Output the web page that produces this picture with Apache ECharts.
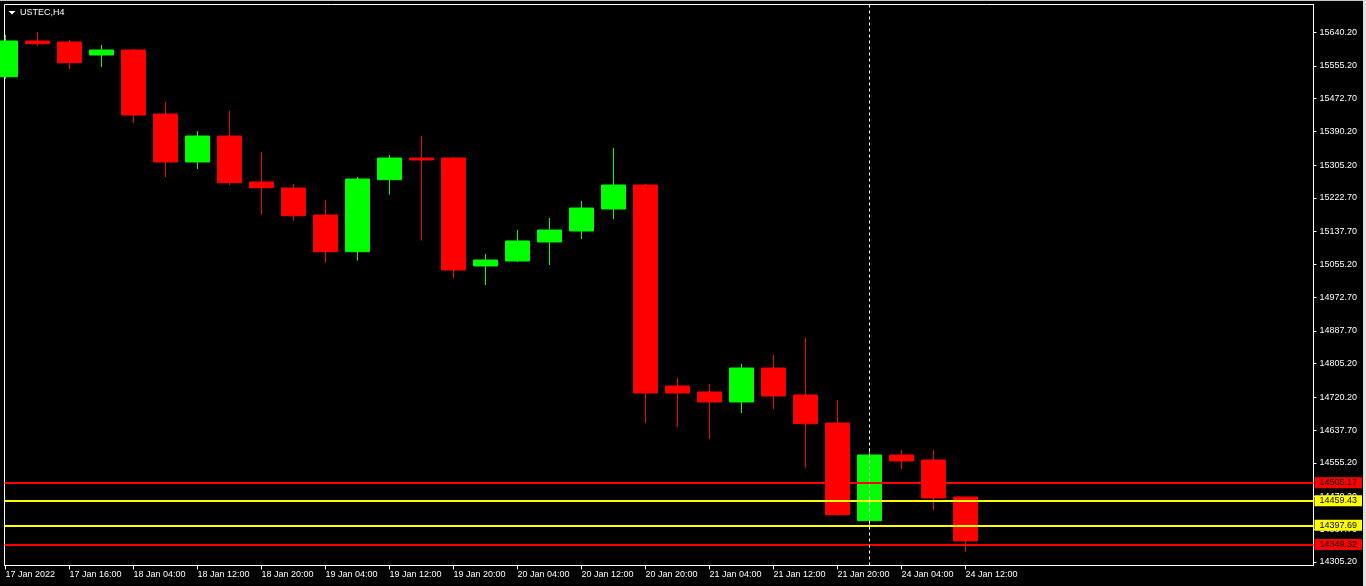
<!DOCTYPE html>
<html>
<head>
<meta charset="utf-8">
<script src="https://cdn.jsdelivr.net/npm/echarts@6/dist/echarts.min.js"></script>
<style>
html,body{margin:0;padding:0;background:#000;}
#c{width:1366px;height:586px;}
</style>
</head>
<body>
<div id="c"></div>
<script>
// ---------- data ----------
const symbolName = 'USTEC,H4';
const times = [
  '17 Jan 2022', '17 Jan 12:00', '17 Jan 16:00', '18 Jan 00:00', '18 Jan 04:00', '18 Jan 08:00',
  '18 Jan 12:00', '18 Jan 16:00', '18 Jan 20:00', '19 Jan 00:00', '19 Jan 04:00', '19 Jan 08:00',
  '19 Jan 12:00', '19 Jan 16:00', '19 Jan 20:00', '20 Jan 00:00', '20 Jan 04:00', '20 Jan 08:00',
  '20 Jan 12:00', '20 Jan 16:00', '20 Jan 20:00', '21 Jan 00:00', '21 Jan 04:00', '21 Jan 08:00',
  '21 Jan 12:00', '21 Jan 16:00', '21 Jan 20:00', '24 Jan 00:00', '24 Jan 04:00', '24 Jan 08:00',
  '24 Jan 12:00'
];
const open = [
  15528.2, 15618.2, 15615.7, 15582.9, 15595.5, 15434.2, 15313.3, 15378.8, 15262.9, 15247.7,
  15179.7, 15087.2, 15268.7, 15323.3, 15323.3, 15051.2, 15063.8, 15111.7, 15139.4, 15194.8,
  15255.3, 14748.8, 14733.7, 14708.5, 14794.1, 14726.1, 14655.5, 14409.3, 14574.9, 14562.3,
  14469.1
];
const high = [
  15633.3, 15640.9, 15620.7, 15608.1, 15598.0, 15464.5, 15391.4, 15441.8, 15338.5, 15257.8,
  15217.5, 15275.5, 15330.9, 15378.8, 15325.9, 15081.4, 15141.9, 15172.1, 15215.0, 15348.5,
  15257.8, 14768.9, 14753.8, 14804.2, 14826.9, 14869.7, 14713.5, 14592.5, 14587.5, 14587.5,
  14469.1
];
const low = [
  15522.4, 15605.6, 15547.6, 15552.7, 15411.5, 15275.5, 15295.6, 15255.3, 15180.5, 15165.3,
  15059.5, 15064.5, 15230.9, 15114.9, 15020.9, 15003.3, 15061.3, 15053.7, 15119.2, 15169.6,
  14655.5, 14645.5, 14615.2, 14680.7, 14690.8, 14542.9, 14421.9, 14390.9, 14539.6, 14436.3,
  14330.5
];
const close = [
  15618.2, 15611.4, 15563.5, 15595.5, 15431.7, 15313.3, 15378.8, 15261.1, 15248.5, 15177.9,
  15087.2, 15270.4, 15323.3, 15318.3, 15041.1, 15066.3, 15114.2, 15141.9, 15197.3, 15255.3,
  14731.1, 14731.1, 14708.5, 14794.1, 14723.6, 14653.8, 14424.5, 14574.9, 14559.8, 14466.5,
  14358.2
];
const priceTicks = [
  15640.20, 15555.20, 15472.70, 15390.20, 15305.20, 15222.70, 15137.70, 15055.20, 14972.70,
  14887.70, 14805.20, 14720.20, 14637.70, 14555.20, 14470.20, 14387.70, 14305.20
];
const levels = [14505.17, 14459.43, 14397.69, 14349.32];
const separatorIndex = 27; // bar 24 Jan 00:00
const timeLabelStep = 2;

// ---------- styles ----------
const levelColors = ['#ff0000', '#ffff00', '#ffff00', '#ff0000'];
const FONT = "'Liberation Sans',Arial,sans-serif";
const FS = 9;
const UP = '#00ff00', DOWN = '#ff0000';

const candleData = open.map((o, i) => [i, o, close[i], low[i], high[i]]);
const timeTickIdx = times.map((t, i) => i).filter(i => i % timeLabelStep === 0);

const markData = levels.map((v, i) => ({
  yAxis: v,
  lineStyle: { color: levelColors[i], width: 2, type: 'solid' },
  label: {
    show: true, position: 'end', distance: 1,
    formatter: v.toFixed(2),
    backgroundColor: levelColors[i], color: '#000',
    fontFamily: FONT, fontSize: FS, lineHeight: 11, padding: [0, 5, 0, 5]
  }
}));
markData.push({
  xAxis: separatorIndex,
  lineStyle: { color: '#ffffff', width: 1, type: [3, 3] },
  label: { show: false }
});

const chart = echarts.init(document.getElementById('c'), null, { renderer: 'canvas' });
chart.setOption({
  animation: false,
  backgroundColor: '#000000',
  grid: {
    left: 4.5, top: 4.5, right: 52.5, bottom: 20.5,
    containLabel: false, outerBoundsMode: 'none',
    show: true, borderColor: '#ffffff', borderWidth: 1, backgroundColor: '#000000'
  },
  xAxis: {
    type: 'value', min: -1 / 32, max: 40.875,
    axisLine: { show: true, onZero: false, lineStyle: { color: '#ffffff', width: 1 } },
    axisTick: { show: true, customValues: timeTickIdx, length: 4, lineStyle: { color: '#ffffff' } },
    axisLabel: {
      customValues: timeTickIdx,
      formatter: v => times[Math.round(v)] || '',
      color: '#ffffff', fontFamily: FONT, fontSize: FS, align: 'left', margin: 5
    },
    splitLine: { show: false }
  },
  yAxis: {
    type: 'value', position: 'right', min: 14296.4, max: 15710.2, scale: true,
    axisLine: { show: true, onZero: false, lineStyle: { color: '#ffffff', width: 1 } },
    axisTick: { show: true, customValues: priceTicks, length: 3, lineStyle: { color: '#ffffff' } },
    axisLabel: {
      customValues: priceTicks,
      formatter: v => Number(v).toFixed(2),
      color: '#ffffff', fontFamily: FONT, fontSize: FS, margin: 6
    },
    splitLine: { show: false }
  },
  series: [{
    type: 'candlestick',
    data: candleData,
    encode: { x: 0, y: [1, 2, 3, 4] },
    barWidth: 24,
    clip: true,
    itemStyle: {
      color: UP, color0: DOWN, borderColor: UP, borderColor0: DOWN, borderWidth: 1
    },
    markLine: {
      silent: true, symbol: 'none', animation: false,
      data: markData
    }
  }],
  graphic: [
    { type: 'rect', shape: { x: 0, y: 0, width: 1366, height: 1 }, style: { fill: '#c8c8c8' }, z: 100 },
    { type: 'rect', shape: { x: 1363, y: 0, width: 3, height: 586 }, style: { fill: '#e0e0e0' }, z: 100 },
    { type: 'polygon', shape: { points: [[8.5, 11], [15.5, 11], [12, 14.5]] }, style: { fill: '#ffffff' }, z: 100 },
    { type: 'text', x: 20, y: 13, style: { text: symbolName, fill: '#ffffff', font: FS + 'px ' + FONT, textVerticalAlign: 'middle', verticalAlign: 'middle' }, z: 100 }
  ]
});
</script>
</body>
</html>
